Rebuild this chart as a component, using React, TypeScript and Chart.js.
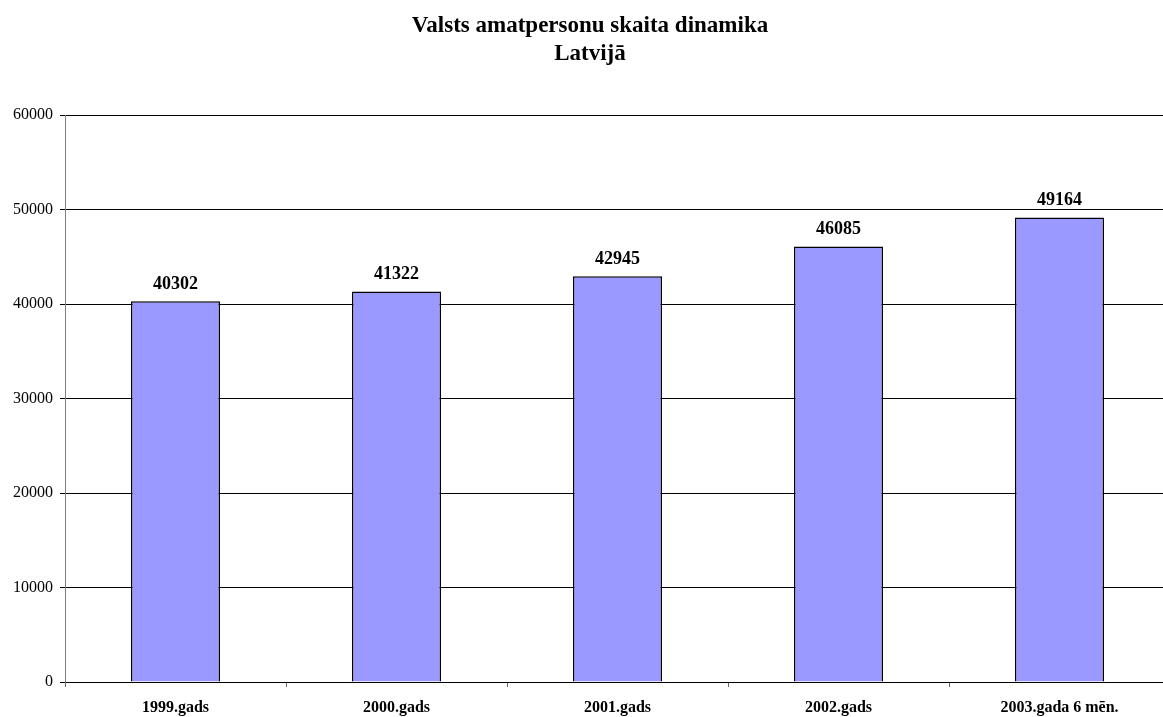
import React, { useEffect, useRef } from "react";
import { Chart, registerables } from "chart.js";

Chart.register(...registerables);

const categories = ["1999.gads", "2000.gads", "2001.gads", "2002.gads", "2003.gada 6 mēn."];
const values = [40302, 41322, 42945, 46085, 49164];
const titleLines = ["Valsts amatpersonu skaita dinamika", "Latvijā"];
const yTicks = [0, 10000, 20000, 30000, 40000, 50000, 60000];

const FONT = "'Liberation Serif', 'Times New Roman', serif";

const overlayPlugin = {
  id: "overlay",
  afterDatasetsDraw(chart: any) {
    const ctx = chart.ctx;
    ctx.save();
    ctx.fillStyle = "#000";
    ctx.textAlign = "center";
    ctx.textBaseline = "middle";
    ctx.font = `bold 23px ${FONT}`;
    const cx = chart.width / 2;
    ctx.fillText(titleLines[0], cx, 26);
    ctx.fillText(titleLines[1], cx, 54);
    ctx.font = `bold 18px ${FONT}`;
    ctx.textBaseline = "bottom";
    const meta = chart.getDatasetMeta(0);
    meta.data.forEach((bar: any, i: number) => {
      ctx.fillText(String(values[i]), bar.x, bar.y - 8);
    });
    ctx.restore();
  },
};

export default function App() {
  const ref = useRef<HTMLCanvasElement>(null);
  useEffect(() => {
    if (!ref.current) return;
    const chart = new Chart(ref.current, {
      type: "bar",
      data: {
        labels: categories,
        datasets: [
          {
            data: values,
            backgroundColor: "#9999FF",
            borderColor: "#000",
            borderWidth: 1.5,
            categoryPercentage: 1,
            barPercentage: 0.403,
          },
        ],
      },
      options: {
        animation: false,
        responsive: true,
        maintainAspectRatio: false,
        layout: { padding: { top: 115, right: 10, left: 0, bottom: 0 } },
        plugins: { legend: { display: false }, title: { display: false }, tooltip: { enabled: false } },
        scales: {
          x: {
            offset: true,
            grid: { display: true, drawOnChartArea: false, offset: true, tickLength: 5, color: "#666" },
            border: { color: "#000", width: 1 },
            ticks: { color: "#000", font: { family: FONT, size: 16, weight: "bold" }, padding: 11, maxRotation: 0 },
            afterFit: (s: any) => { s.height = 35; },
          },
          y: {
            min: 0,
            max: 60000,
            afterBuildTicks: (s: any) => { s.ticks = yTicks.map((v) => ({ value: v })); },
            grid: { color: "#000", tickLength: 5, lineWidth: 1 },
            border: { color: "#808080", width: 1 },
            ticks: { color: "#000", font: { family: FONT, size: 16 }, padding: 7, callback: (v: any) => String(v) },
            afterFit: (s: any) => { s.width = 65; },
          },
        },
      },
      plugins: [overlayPlugin],
    });
    return () => chart.destroy();
  }, []);
  return (
    <div style={{ position: "absolute", left: 0, top: 0, width: 1163, height: 717, overflow: "hidden", background: "#fff" }}>
      <div style={{ position: "relative", width: 1180, height: 717 }}>
        <canvas ref={ref} />
      </div>
    </div>
  );
}
